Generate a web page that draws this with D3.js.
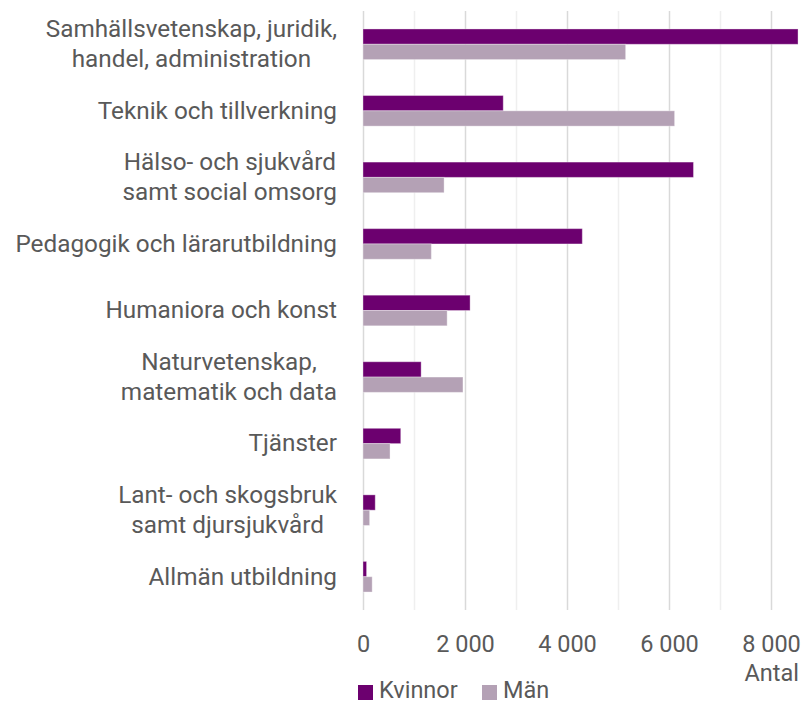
<!DOCTYPE html>
<html>
<head>
<meta charset="utf-8">
<script src="https://cdn.jsdelivr.net/npm/d3@7"></script>
<style>
  body { margin: 0; background: #fff; }
  svg text { font-family: Roboto, "Noto Sans", sans-serif; fill: #595959; }
</style>
</head>
<body>
<svg id="chart"></svg>
<script>
// categories, top to bottom (line breaks as in the picture)
const categories = [
    ['Samhällsvetenskap, juridik,', 'handel, administration'],
    ['Teknik och tillverkning'],
    ['Hälso- och sjukvård', 'samt social omsorg'],
    ['Pedagogik och lärarutbildning'],
    ['Humaniora och konst'],
    ['Naturvetenskap,', 'matematik och data'],
    ['Tjänster'],
    ['Lant- och skogsbruk', 'samt djursjukvård'],
    ['Allmän utbildning']
];
const kvinnor = [8530, 2750, 6480, 4300, 2100, 1140, 740, 240, 70];
const man = [5150, 6110, 1590, 1340, 1650, 1960, 530, 130, 180];
const seriesNames = ['Kvinnor', 'Män'];
const xTicks = [0, 2000, 4000, 6000, 8000];

const width = 811, height = 701;
const margin = { top: 11, right: 40, bottom: 91, left: 363 };
const colors = ['#6c006f', '#b4a1b5'];
const fontSize = '23.5px';
const labelSize = '24.3px';

const svg = d3.select('#chart')
    .attr('width', width)
    .attr('height', height);

const chart = svg.append('g')
    .attr('transform', `translate(${margin.left}, ${margin.top})`);

const innerH = height - margin.top - margin.bottom;

const xScale = d3.scaleLinear()
    .domain([0, 8000])
    .range([0, 408]);

const yScale = d3.scaleBand()
    .domain(d3.range(categories.length))
    .range([0, innerH])
    .paddingInner(0.54)
    .paddingOuter(0.27);

const subScale = d3.scaleBand()
    .domain([0, 1])
    .range([0, yScale.bandwidth()]);

// gridlines, minor every 1000, major every 2000
chart.append('g')
    .selectAll('line')
    .data(d3.range(0, 8001, 1000))
    .join('line')
    .attr('x1', d => xScale(d) + 0.5)
    .attr('x2', d => xScale(d) + 0.5)
    .attr('y1', 0)
    .attr('y2', innerH)
    .attr('stroke', d => d % 2000 === 0 ? '#d9d9d9' : '#efefef')
    .attr('stroke-width', 1.5);

// x tick labels
const fmt = d => d3.format(',')(d).replace(/,/g, ' ');
const xAxis = d3.axisBottom(xScale).tickValues(xTicks).tickFormat(fmt).tickSize(0).tickPadding(0);
const xAxisG = chart.append('g')
    .attr('transform', `translate(0, ${innerH})`)
    .call(xAxis);
xAxisG.select('.domain').remove();
xAxisG.selectAll('text')
    .attr('y', 42)
    .attr('dy', 0)
    .style('font-size', fontSize)
    .style('font-family', 'Roboto, sans-serif')
    .attr('fill', '#595959');

chart.append('text')
    .attr('x', 436)
    .attr('y', innerH + 71)
    .attr('text-anchor', 'end')
    .style('font-size', fontSize)
    .text('Antal');

// bars
const groups = chart.selectAll('.group')
    .data(categories.map((c, i) => ({ i, vals: [kvinnor[i], man[i]] })))
    .join('g')
    .attr('class', 'group')
    .attr('transform', d => `translate(0, ${yScale(d.i)})`);

groups.selectAll('rect')
    .data(d => d.vals)
    .join('rect')
    .attr('x', 0)
    .attr('y', (d, j) => subScale(j))
    .attr('width', d => xScale(d))
    .attr('height', subScale.bandwidth())
    .attr('fill', (d, j) => colors[j])
    .attr('stroke', 'rgba(255,255,255,0.35)')
    .attr('stroke-width', 1);

// category labels: block right-aligned, lines centred inside the block
const labelRight = -26;
const labels = chart.selectAll('.cat')
    .data(categories)
    .join('text')
    .attr('class', 'cat')
    .attr('text-anchor', 'middle')
    .style('font-size', labelSize);

labels.each(function(lines, i) {
    const cy = yScale(i) + yScale.bandwidth() / 2;
    const lh = 30;
    const t = d3.select(this);
    const spans = t.selectAll('tspan')
        .data(lines)
        .join('tspan')
        .attr('y', (d, k) => cy + 7.8 + (k - (lines.length - 1) / 2) * lh)
        .text(d => d);
    let maxW = 0;
    spans.each(function() { maxW = Math.max(maxW, this.getComputedTextLength()); });
    spans.attr('x', labelRight - maxW / 2);
});

// legend
const legend = svg.append('g')
    .attr('transform', `translate(358, 685)`);
const legItems = legend.selectAll('g')
    .data(seriesNames)
    .join('g')
    .attr('transform', (d, i) => `translate(${i * 124}, 0)`);
legItems.append('rect')
    .attr('width', 15)
    .attr('height', 15)
    .attr('fill', (d, i) => colors[i]);
legItems.append('text')
    .attr('x', 21)
    .attr('y', 13)
    .style('font-size', fontSize)
    .text(d => d);
</script>
</body>
</html>
